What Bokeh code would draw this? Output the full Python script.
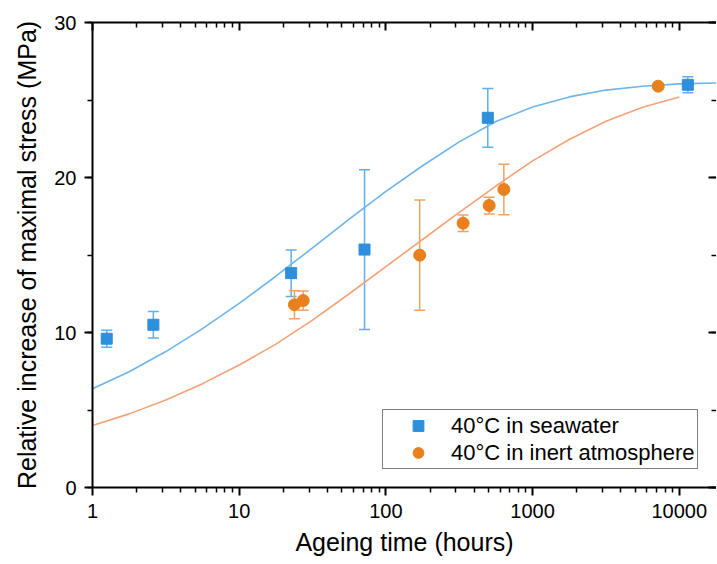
from bokeh.plotting import figure
from bokeh.models import (ColumnDataSource, Whisker, TeeHead, LogAxis, LinearAxis,
                          FixedTicker, SingleIntervalTicker, CustomJSTickFormatter,
                          Legend, LegendItem)
from bokeh.embed import file_html
from bokeh.resources import INLINE

# ---- data ----
sea_t = [1.25, 2.6, 22.6, 71.5, 495, 11430]
sea_y = [9.6, 10.5, 13.83, 15.35, 23.85, 25.98]
sea_err = [0.55, 0.85, 1.5, 5.15, 1.9, 0.52]

inert_t = [23.8, 27.3, 170, 336, 506, 637, 7180]
inert_y = [11.79, 12.06, 14.99, 17.05, 18.19, 19.23, 25.89]
inert_err = [0.9, 0.62, 3.56, 0.53, 0.54, 1.63, 0.0]

fit_sea_t = [1, 1.778, 3.162, 5.623, 10, 17.78, 31.62, 56.23, 100, 177.8, 316.2,
             562.3, 1000, 1778, 3162, 5623, 10000, 18000]
fit_sea_y = [6.37, 7.47, 8.77, 10.25, 11.88, 13.63, 15.46, 17.31, 19.11, 20.76, 22.3,
             23.61, 24.55, 25.2, 25.64, 25.89, 26.04, 26.1]

fit_inert_t = [1, 1.778, 3.162, 5.623, 10, 17.78, 31.62, 56.23, 100, 177.8, 316.2,
               562.3, 1000, 1778, 3162, 5623, 10000]
fit_inert_y = [4.0, 4.75, 5.65, 6.7, 7.9, 9.25, 10.8, 12.5, 14.25, 16.0, 17.75,
               19.45, 21.07, 22.45, 23.63, 24.53, 25.2]

x_major = [1, 10, 100, 1000, 10000]
x_minor = [m * 10 ** k for k in range(5) for m in range(2, 10)]

labels = ["40°C in seawater", "40°C in inert atmosphere"]
x_title = "Ageing time (hours)"
y_title = "Relative increase of maximal stress (MPa)"

# ---- styles ----
FONT = "Liberation Sans"
blue_marker = "#2E8FDA"
blue_err = "#62AEE8"
blue_fit = "#6DB5EC"
orange_marker = "#E8801E"
orange_err = "#F0A35F"
orange_fit = "#F4A276"

p = figure(frame_width=624, frame_height=465, x_axis_type="log",
           x_range=(1, 17930), y_range=(0, 30),
           output_backend="svg", toolbar_location=None,
           min_border_left=92, min_border_top=22, min_border_right=0, min_border_bottom=0)
p.xgrid.visible = False
p.ygrid.visible = False
p.outline_line_color = None
p.background_fill_color = "white"

xticker = FixedTicker(ticks=x_major, minor_ticks=x_minor)
yticker = SingleIntervalTicker(interval=10, num_minor_ticks=2)


def style_main(ax, title):
    ax.axis_line_width = 2
    ax.axis_line_color = "black"
    ax.major_tick_line_width = 2
    ax.minor_tick_line_width = 1.5
    ax.major_tick_out = 8
    ax.major_tick_in = 0
    ax.minor_tick_out = 5
    ax.minor_tick_in = 0
    ax.major_label_text_font = FONT
    ax.major_label_text_font_size = "20px"
    ax.major_label_text_color = "black"
    ax.major_label_standoff = 8
    ax.axis_label = title
    ax.axis_label_text_font = FONT
    ax.axis_label_text_font_size = "25px"
    ax.axis_label_text_font_style = "normal"
    ax.axis_label_text_color = "black"
    ax.axis_label_standoff = 7


xa = p.xaxis[0]
xa.ticker = xticker
xa.formatter = CustomJSTickFormatter(code="return tick.toFixed(0);")
style_main(xa, x_title)

ya = p.yaxis[0]
ya.ticker = yticker
style_main(ya, y_title)
ya.major_label_standoff = 8
ya.axis_label_standoff = 10


def style_mirror(ax):
    ax.axis_line_width = 2
    ax.axis_line_color = "black"
    ax.major_tick_line_width = 2
    ax.minor_tick_line_width = 1.5
    ax.major_tick_out = 0
    ax.major_tick_in = 8
    ax.minor_tick_out = 0
    ax.minor_tick_in = 5
    ax.major_label_text_font_size = "0px"
    ax.major_label_standoff = 0
    ax.formatter = CustomJSTickFormatter(code="return '';")


top = LogAxis(ticker=xticker)
style_mirror(top)
p.add_layout(top, "above")

right = LinearAxis(ticker=yticker)
style_mirror(right)
right.axis_line_color = None
p.add_layout(right, "right")

# fit lines
p.line(fit_sea_t, fit_sea_y, line_color=blue_fit, line_width=1.6)
p.line(fit_inert_t, fit_inert_y, line_color=orange_fit, line_width=1.6)


# error bars
def add_err(ts, ys, es, color):
    sel = [i for i in range(len(ts)) if es[i] > 0]
    src = ColumnDataSource(dict(t=[ts[i] for i in sel],
                                lo=[ys[i] - es[i] for i in sel],
                                hi=[ys[i] + es[i] for i in sel]))
    w = Whisker(source=src, base="t", lower="lo", upper="hi", dimension="height",
                line_color=color, line_width=1.5,
                lower_head=TeeHead(size=11, line_color=color, line_width=1.5),
                upper_head=TeeHead(size=11, line_color=color, line_width=1.5))
    p.add_layout(w)


add_err(sea_t, sea_y, sea_err, blue_err)
add_err(inert_t, inert_y, inert_err, orange_err)

sq = p.scatter(sea_t, sea_y, marker="square", size=11,
               fill_color=blue_marker, line_color=blue_marker)
ci = p.scatter(inert_t, inert_y, marker="circle", size=12,
               fill_color=orange_marker, line_color=orange_marker)

legend = Legend(items=[LegendItem(label=labels[0], renderers=[sq]),
                       LegendItem(label=labels[1], renderers=[ci])],
                location=(290, 18))
legend.border_line_color = "black"
legend.border_line_width = 1
legend.background_fill_color = "white"
legend.background_fill_alpha = 1
legend.label_text_font = FONT
legend.label_text_font_size = "22px"
legend.label_text_color = "black"
legend.glyph_width = 66
legend.glyph_height = 27
legend.label_height = 27
legend.label_standoff = 0
legend.padding = 2
legend.spacing = 0
legend.margin = 0
p.add_layout(legend)

open("out.html", "w").write(file_html(p, INLINE))
